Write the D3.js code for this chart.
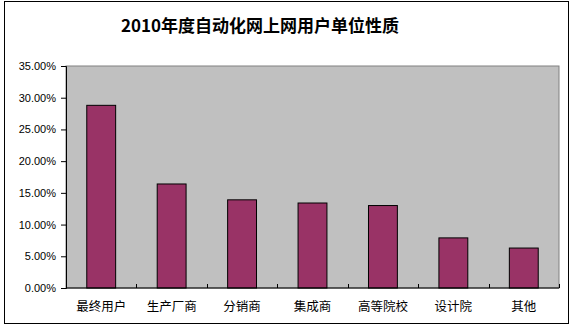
<!DOCTYPE html>
<html><head><meta charset="utf-8">
<script src="https://cdn.jsdelivr.net/npm/d3@7"></script>
<style>body{margin:0;background:#fff}svg{display:block}</style>
</head><body><svg id="c" width="574" height="330"></svg>
<script>
const title = "2010年度自动化网上网用户单位性质";
const categories = ["最终用户","生产厂商","分销商","集成商","高等院校","设计院","其他"];
const values = [0.288, 0.164, 0.139, 0.134, 0.130, 0.079, 0.063];
const yTicks = [0, 0.05, 0.10, 0.15, 0.20, 0.25, 0.30, 0.35];

const svg = d3.select("#c");
svg.append("rect").attr("x",4.5).attr("y",1.5).attr("width",564).attr("height",322)
  .attr("fill","#fff").attr("stroke","#000");

const L=66, R=559, T=66, B=288;
const x = d3.scaleBand().domain(categories).range([L,R]).paddingInner(0.59).paddingOuter(0.295);
const y = d3.scaleLinear().domain([0,0.35]).range([B,T]);

svg.append("rect").attr("x",L).attr("y",T).attr("width",R-L).attr("height",B-T)
  .attr("fill","#c0c0c0").attr("stroke","#808080");

svg.append("text").attr("x",260).attr("y",32).attr("text-anchor","middle")
  .attr("font-family","'Noto Sans CJK SC', sans-serif").attr("font-weight","bold")
  .attr("font-size",17).attr("fill","#000").text(title);

svg.selectAll(".bar").data(values).join("rect")
  .attr("x",(d,i)=>x(categories[i])).attr("width",x.bandwidth())
  .attr("y",d=>y(d)).attr("height",d=>B-y(d))
  .attr("fill","#993366").attr("stroke","#000");

const yAxis = d3.axisLeft(y).tickValues(yTicks).tickSize(5).tickFormat(d3.format(".2%"));
const gy = svg.append("g").attr("transform",`translate(${L},0)`).call(yAxis);
gy.select(".domain").attr("stroke","#000");
gy.selectAll("text").attr("font-family","Arial, 'Liberation Sans', sans-serif").attr("font-size",11).attr("x",-10).attr("fill","#000");

const xb = d3.scaleLinear().domain([0,7]).range([L,R]);
const gx = svg.append("g").attr("transform",`translate(0,${B})`);
gx.append("line").attr("x1",L).attr("x2",R).attr("stroke","#000");
gx.selectAll(".tk").data(d3.range(0,8)).join("line")
  .attr("x1",d=>Math.round(xb(d))+0.5).attr("x2",d=>Math.round(xb(d))+0.5).attr("y1",-4).attr("y2",0).attr("stroke","#000");
gx.selectAll(".lbl").data(categories).join("text")
  .attr("x",d=>x(d)+x.bandwidth()/2).attr("y",23).attr("text-anchor","middle")
  .attr("font-family","'Noto Sans CJK SC', sans-serif").attr("font-size",12.5).attr("fill","#000").text(d=>d);
</script></body></html>
